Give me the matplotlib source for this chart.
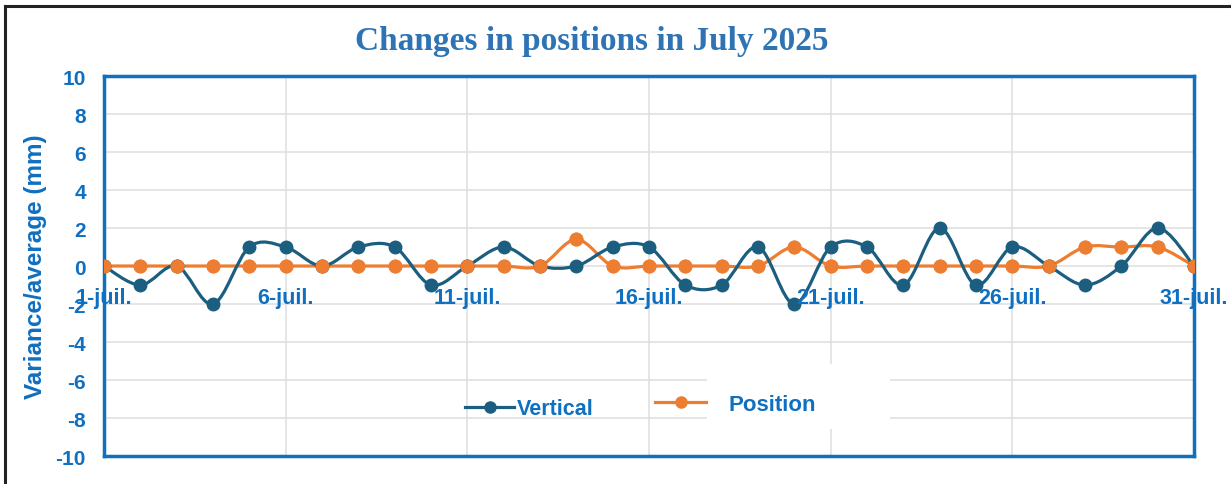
import matplotlib
matplotlib.use("Agg")
import matplotlib.pyplot as plt
from matplotlib.path import Path
from matplotlib.patches import PathPatch, Rectangle
from matplotlib.lines import Line2D

# data
days = list(range(1, 32))
vertical = [0, -1, 0, -2, 1, 1, 0, 1, 1, -1, 0, 1, 0, 0, 1, 1, -1, -1, 1, -2,
            1, 1, -1, 2, -1, 1, 0, -1, 0, 2, 0]
position = [0, 0, 0, 0, 0, 0, 0, 0, 0, 0, 0, 0, 0, 1.4, 0, 0, 0, 0, 0, 1,
            0, 0, 0, 0, 0, 0, 0, 1, 1, 1, 0]
tick_days = [1, 6, 11, 16, 21, 26, 31]
tick_labels = ["1-juil.", "6-juil.", "11-juil.", "16-juil.", "21-juil.", "26-juil.", "31-juil."]
y_ticks = list(range(-10, 11, 2))

BLUE = "#0F6FC0"
TEAL = "#1B5E80"
ORANGE = "#ED7D31"

plt.rcParams["font.family"] = "Liberation Sans"
plt.rcParams["axes.unicode_minus"] = False


def smooth_path(xs, ys):
    # Excel-style smoothed line: cubic bezier through every point
    n = len(xs)
    verts = [(xs[0], ys[0])]
    codes = [Path.MOVETO]
    for i in range(n - 1):
        x0, y0 = xs[max(i - 1, 0)], ys[max(i - 1, 0)]
        x1, y1 = xs[i], ys[i]
        x2, y2 = xs[i + 1], ys[i + 1]
        x3, y3 = xs[min(i + 2, n - 1)], ys[min(i + 2, n - 1)]
        c1 = (x1 + (x2 - x0) / 6, y1 + (y2 - y0) / 6)
        c2 = (x2 - (x3 - x1) / 6, y2 - (y3 - y1) / 6)
        verts += [c1, c2, (x2, y2)]
        codes += [Path.CURVE4] * 3
    return Path(verts, codes)


fig = plt.figure(figsize=(12.31, 4.85), dpi=100)
ax = fig.add_axes([0.0845, 0.0577, 0.8855, 0.7835])

ax.set_xlim(1, 31)
ax.set_ylim(-10, 10)
ax.set_yticks(y_ticks)
ax.set_xticks(tick_days)
ax.set_xticklabels([])
ax.tick_params(axis="x", length=0)
ax.tick_params(axis="y", length=0, pad=13, labelcolor=BLUE, labelsize=15)
for lab in ax.get_yticklabels():
    lab.set_fontweight("bold")
ax.grid(True, color="#E0E0E0", linewidth=1.2, zorder=0)
ax.set_axisbelow(True)
for sp in ax.spines.values():
    sp.set_color(BLUE)
    sp.set_linewidth(2.5)

# x labels sit just below the zero line
for d, lab in zip(tick_days, tick_labels):
    ax.text(d, -1.1, lab, ha="center", va="top", color=BLUE, fontsize=15.5,
            fontweight="bold", zorder=8)

for ys, col in [(position, ORANGE), (vertical, TEAL)]:
    ax.add_patch(PathPatch(smooth_path(days, ys), facecolor="none", edgecolor=col,
                           linewidth=2.3, zorder=3))
ax.plot(days, position, linestyle="none", marker="o", markersize=9, color=ORANGE, zorder=4)
ax.plot(days, vertical, linestyle="none", marker="o", markersize=9, color=TEAL, zorder=5)
ax.plot(days, position, linestyle="none", marker="o", markersize=9, color=ORANGE, zorder=6)

ax.set_ylabel("Variance/average (mm)", color=BLUE, fontsize=17.5, fontweight="bold", labelpad=6)
fig.text(0.481, 0.915, "Changes in positions in July 2025", family="Liberation Serif",
         fontsize=24, fontweight="bold", color="#2E74B5", ha="center", va="center")

# white patch behind legend entry
ax.add_patch(Rectangle((0.553, 0.071), 0.168, 0.171, transform=ax.transAxes,
                       facecolor="white", edgecolor="none", zorder=2))
h1 = Line2D([], [], color=TEAL, marker="o", markersize=8, linewidth=2.3)
h2 = Line2D([], [], color=ORANGE, marker="o", markersize=8, linewidth=2.3)
leg1 = ax.legend([h1], ["Vertical"], loc="center left", bbox_to_anchor=(0.331, 0.124),
                 frameon=False, borderpad=0, borderaxespad=0, handlelength=2.3,
                 handletextpad=0.12, prop={"size": 15.5, "weight": "bold"})
ax.add_artist(leg1)
leg2 = ax.legend([h2], ["Position"], loc="center left", bbox_to_anchor=(0.5055, 0.135),
                 frameon=False, borderpad=0, borderaxespad=0, handlelength=2.3,
                 handletextpad=1.0, prop={"size": 16, "weight": "bold"})
for lg in (leg1, leg2):
    lg.set_zorder(7)
    for t in lg.get_texts():
        t.set_color(BLUE)

# outer border (top and left)
fig.add_artist(Line2D([0.004, 0.004], [0, 0.986], color="#222222", linewidth=2.2))
fig.add_artist(Line2D([0.004, 1.0], [0.986, 0.986], color="#222222", linewidth=2.2))

fig.savefig("out.png", dpi=100)
